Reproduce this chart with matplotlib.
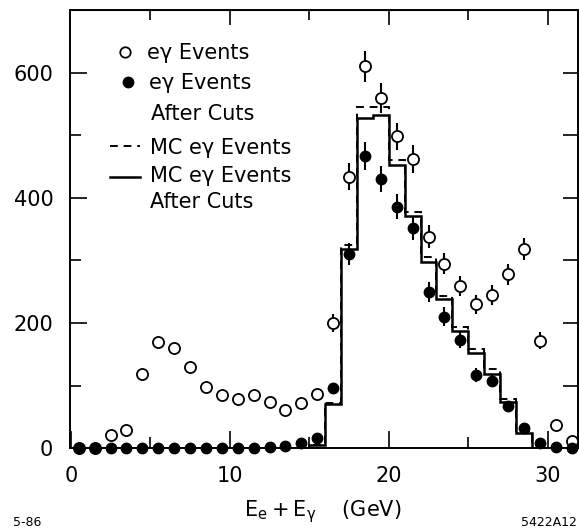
import numpy as np
import matplotlib
matplotlib.use("Agg")
import matplotlib.pyplot as plt
from matplotlib.lines import Line2D

# ---------------- data ----------------
bin_edges = [0, 1, 2, 3, 4, 5, 6, 7, 8, 9, 10, 11, 12, 13, 14, 15, 16,
             17, 18, 19, 20, 21, 22, 23, 24, 25, 26, 27, 28, 29, 30, 31, 32]
bin_centers = [0.5, 1.5, 2.5, 3.5, 4.5, 5.5, 6.5, 7.5, 8.5, 9.5, 10.5, 11.5,
               12.5, 13.5, 14.5, 15.5, 16.5, 17.5, 18.5, 19.5, 20.5, 21.5,
               22.5, 23.5, 24.5, 25.5, 26.5, 27.5, 28.5, 29.5, 30.5, 31.5]

# e-gamma events (open circles)
events_all = [0, 0, 22, 29, 118, 170, 160, 130, 98, 85, 78, 85,
              74, 61, 72, 86, 200, 434, 610, 560, 498, 462,
              338, 295, 259, 230, 245, 278, 318, 172, 38, 12]
err_all = [0, 0, 0, 0, 0, 0, 0, 0, 0, 0, 0, 0,
           0, 0, 0, 0, 14, 21, 25, 24, 22, 22,
           18, 17, 16, 15, 16, 17, 18, 13, 0, 0]

# e-gamma events after cuts (filled circles)
events_cut = [0, 0, 0, 0, 0, 0, 0, 0, 0, 0, 0, 1,
              2, 4, 8, 16, 96, 310, 467, 430, 386, 352,
              250, 210, 173, 117, 108, 67, 32, 8, 2, 0]
err_cut = [0, 0, 0, 0, 0, 0, 0, 0, 0, 0, 0, 0,
           0, 0, 0, 0, 0, 18, 22, 21, 20, 19,
           16, 15, 13, 11, 10, 8, 6, 0, 0, 0]

# Monte Carlo histograms
mc_all = [0, 0, 0, 0, 0, 0, 0, 0, 0, 0, 0, 0, 0, 0, 0, 6, 72, 325,
          545, 545, 460, 378, 306, 243, 193, 158, 126, 78, 27, 0, 0, 0]
mc_cut = [0, 0, 0, 0, 0, 0, 0, 0, 0, 0, 0, 0, 0, 0, 0, 5, 71, 318,
          527, 533, 452, 371, 298, 238, 188, 152, 118, 74, 25, 0, 0, 0]

x_major = [0, 10, 20, 30]
x_minor = [5, 15, 25]
y_major = [0, 200, 400, 600]
y_minor = [100, 300, 500]
y_right = [100, 200, 300, 400, 500, 600]
x_top_major = [10, 20, 30]
x_top_minor = [5, 15, 25]

legend_labels = ["eγ Events", "eγ Events", "After Cuts", "MC eγ Events",
                 "MC eγ Events", "After Cuts"]

# ---------------- figure ----------------
W, H = 579, 531
fig = plt.figure(figsize=(W / 100, H / 100), dpi=100)
plt.rcParams['font.family'] = ['DejaVu Sans']
plt.rcParams['mathtext.fontset'] = 'dejavusans'

ax_l, ax_r, ax_t, ax_b = 70, 578, 10, 448.3
ax = fig.add_axes([ax_l / W, 1 - ax_b / H, (ax_r - ax_l) / W, (ax_b - ax_t) / H])
ax.set_xlim(-0.05, 31.9)
ax.set_ylim(0, 700)

for s in ax.spines.values():
    s.set_linewidth(1.4)

# histograms
ax.stairs(mc_all, bin_edges, color='black', lw=1.4, ls=(0, (4, 3)), zorder=2)
ax.stairs(mc_cut, bin_edges, color='black', lw=1.8, zorder=2.1)

# error bars
ax.errorbar(bin_centers, events_all, yerr=err_all, fmt='none', ecolor='black',
            elinewidth=1.5, capsize=0, zorder=3, clip_on=False)
ax.errorbar(bin_centers, events_cut, yerr=err_cut, fmt='none', ecolor='black',
            elinewidth=1.5, capsize=0, zorder=3, clip_on=False)
ax.plot(bin_centers, events_all, 'o', ms=8, mfc='white', mec='black', mew=1.3,
        ls='none', zorder=4, clip_on=False)
ax.plot(bin_centers, events_cut, 'o', ms=7.5, mfc='black', mec='black',
        ls='none', zorder=5, clip_on=False)

# ticks
ax.set_xticks(x_major)
ax.set_xticks(x_minor, minor=True)
ax.set_yticks(y_major)
ax.set_yticks(y_minor, minor=True)
ax.tick_params(axis='both', which='both', direction='in', width=1.2,
               top=False, right=False, labelsize=15)
ax.tick_params(axis='both', which='major', length=12.5)
ax.tick_params(axis='both', which='minor', length=8)
ax.tick_params(axis='y', which='major', pad=12)
ax.tick_params(axis='x', which='major', pad=13)

sec_r = ax.secondary_yaxis('right')
sec_r.set_yticks(y_right)
sec_r.tick_params(direction='in', length=11, width=1.2, labelright=False)
sec_t = ax.secondary_xaxis('top')
sec_t.set_xticks(x_top_major)
sec_t.set_xticks(x_top_minor, minor=True)
sec_t.tick_params(which='major', direction='in', length=11, width=1.2, labeltop=False)
sec_t.tick_params(which='minor', direction='in', length=7.5, width=1.2)
sec_t.xaxis.set_minor_formatter(plt.NullFormatter())


def fp(x, y):
    return (x / W, 1 - y / H)


FS = 15
# legend (manual)
fig.add_artist(Line2D([125 / W], [1 - 52 / H], marker='o', ms=7.5, mfc='white',
                      mec='black', mew=1.3, ls='none'))
fig.text(*fp(147, 59), legend_labels[0], fontsize=FS, va='baseline', ha='left')
fig.add_artist(Line2D([128 / W], [1 - 82 / H], marker='o', ms=7.5, mfc='black',
                      mec='black', ls='none'))
fig.text(*fp(149, 89), legend_labels[1], fontsize=FS, va='baseline', ha='left')
fig.text(*fp(151, 120), legend_labels[2], fontsize=FS, va='baseline', ha='left')
fig.add_artist(Line2D([110 / W, 140 / W], [1 - 146 / H, 1 - 146 / H], color='black',
                      lw=1.4, ls=(0, (4, 3))))
fig.text(*fp(150, 154), legend_labels[3], fontsize=FS, va='baseline', ha='left')
fig.add_artist(Line2D([110 / W, 140 / W], [1 - 177 / H, 1 - 177 / H], color='black',
                      lw=1.8))
fig.text(*fp(150, 182), legend_labels[4], fontsize=FS, va='baseline', ha='left')
fig.text(*fp(150, 208), legend_labels[5], fontsize=FS, va='baseline', ha='left')

# axis label and annotations
fig.text(*fp(323, 512), r"$\mathregular{E_e + E_\gamma}$    (GeV)", fontsize=15,
         ha='center', va='center')
fig.text(*fp(13, 523), "5-86", fontsize=9, ha='left', va='center')
fig.text(*fp(577, 522), "5422A12", fontsize=9, ha='right', va='center')

fig.savefig("out.png", dpi=100)
